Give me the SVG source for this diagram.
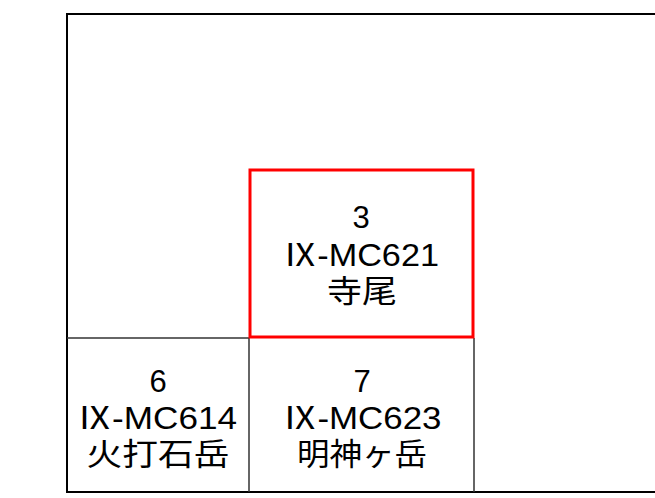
<svg xmlns="http://www.w3.org/2000/svg" width="655" height="498" viewBox="0 0 655 498">
<style>
.t{font-family:"Liberation Sans","Noto Sans CJK JP",sans-serif;font-size:31px;fill:#000;text-anchor:middle}
.grid{fill:none;stroke:#333;stroke-width:1.5}
</style>
<rect width="655" height="498" fill="#fff"/>
<g id="frame">
<rect x="67" y="14" width="650" height="478" fill="none" stroke="#000" stroke-width="2"/>
</g>
<g id="grid-lines" class="grid">
<line x1="67" y1="338" x2="249" y2="338"/>
<line x1="249" y1="338" x2="249" y2="492"/>
<line x1="474" y1="338" x2="474" y2="492"/>
</g>
<g id="node6">
<text class="t" x="158" y="392">6</text>
<text class="t" x="157" y="429" textLength="160" lengthAdjust="spacingAndGlyphs">Ⅸ-MC614</text>
<text class="t" x="158" y="465" textLength="143" lengthAdjust="spacingAndGlyphs">火打石岳</text>
</g>
<g id="node7">
<text class="t" x="362" y="392">7</text>
<text class="t" x="362" y="429" textLength="159" lengthAdjust="spacingAndGlyphs">Ⅸ-MC623</text>
<text class="t" x="362" y="465" textLength="130" lengthAdjust="spacingAndGlyphs">明神ヶ岳</text>
</g>
<g id="node3">
<rect x="250" y="170" width="223" height="167" fill="none" stroke="#f00" stroke-width="3"/>
<text class="t" x="361" y="228">3</text>
<text class="t" x="361" y="266" textLength="156" lengthAdjust="spacingAndGlyphs">Ⅸ-MC621</text>
<text class="t" x="362" y="302" textLength="70" lengthAdjust="spacingAndGlyphs">寺尾</text>
</g>
</svg>
